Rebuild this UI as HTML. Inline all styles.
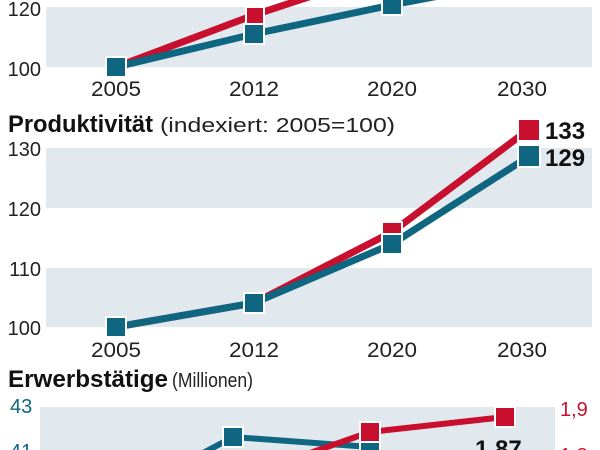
<!DOCTYPE html>
<html><head><style>body{margin:0;background:#fff}svg{display:block}</style></head><body>
<svg width="600" height="450" xmlns="http://www.w3.org/2000/svg" font-family="Liberation Sans, sans-serif">
<rect width="600" height="450" fill="#fff"/>
<!-- top chart -->
<rect x="46" y="7" width="546" height="60" fill="#e1e9ef"/>
<text x="41" y="16" font-size="20" text-anchor="end" fill="#222">120</text>
<text x="41" y="76" font-size="20" text-anchor="end" fill="#222">100</text>
<polyline points="116,67 254,15 330,-10" fill="none" stroke="#c8102e" stroke-width="7"/>
<polyline points="116,67 254,34 392,5 470,-10" fill="none" stroke="#0f6680" stroke-width="7"/>
<rect x="246" y="7" width="18" height="18" fill="#c8102e" stroke="#fff" stroke-width="2"/>
<rect x="244" y="24" width="20" height="20" fill="#0f6680" stroke="#fff" stroke-width="2"/>
<rect x="382" y="-5" width="20" height="20" fill="#0f6680" stroke="#fff" stroke-width="2"/>
<rect x="106" y="57" width="20" height="20" fill="#0f6680" stroke="#fff" stroke-width="2"/>
<g font-size="21" fill="#222" text-anchor="middle"><text x="116" y="96" textLength="50" lengthAdjust="spacingAndGlyphs">2005</text><text x="254" y="96" textLength="50" lengthAdjust="spacingAndGlyphs">2012</text><text x="392" y="96" textLength="50" lengthAdjust="spacingAndGlyphs">2020</text><text x="522" y="96" textLength="50" lengthAdjust="spacingAndGlyphs">2030</text></g>
<!-- middle chart -->
<text x="8" y="132" font-size="24" font-weight="bold" fill="#111" textLength="145" lengthAdjust="spacingAndGlyphs">Produktivität</text>
<text x="160" y="132" font-size="20" fill="#222" textLength="235" lengthAdjust="spacingAndGlyphs">(indexiert: 2005=100)</text>
<rect x="46" y="148" width="546" height="60" fill="#e1e9ef"/>
<rect x="46" y="268" width="546" height="59" fill="#e1e9ef"/>
<g font-size="20" fill="#222" text-anchor="end"><text x="41" y="156">130</text><text x="41" y="216">120</text><text x="41" y="276">110</text><text x="41" y="335">100</text></g>
<polyline points="116,327 254,303 392,232 528,130" fill="none" stroke="#c8102e" stroke-width="7"/>
<polyline points="116,327 254,303 392,244 528,157" fill="none" stroke="#0f6680" stroke-width="7"/>
<rect x="382" y="222" width="20" height="20" fill="#c8102e" stroke="#fff" stroke-width="2"/>
<rect x="382" y="234" width="20" height="20" fill="#0f6680" stroke="#fff" stroke-width="2"/>
<rect x="244" y="293" width="20" height="20" fill="#0f6680" stroke="#fff" stroke-width="2"/>
<rect x="106" y="317" width="20" height="20" fill="#0f6680" stroke="#fff" stroke-width="2"/>
<rect x="518" y="119" width="22" height="22" fill="#c8102e" stroke="#fff" stroke-width="2"/>
<rect x="518" y="145" width="22" height="22" fill="#0f6680" stroke="#fff" stroke-width="2"/>
<text x="545" y="139" font-size="24" font-weight="bold" fill="#111">133</text>
<text x="545" y="166" font-size="24" font-weight="bold" fill="#111">129</text>
<g font-size="21" fill="#222" text-anchor="middle"><text x="116" y="357" textLength="50" lengthAdjust="spacingAndGlyphs">2005</text><text x="254" y="357" textLength="50" lengthAdjust="spacingAndGlyphs">2012</text><text x="392" y="357" textLength="50" lengthAdjust="spacingAndGlyphs">2020</text><text x="522" y="357" textLength="50" lengthAdjust="spacingAndGlyphs">2030</text></g>
<!-- bottom chart -->
<text x="8" y="387" font-size="24" font-weight="bold" fill="#111" textLength="160" lengthAdjust="spacingAndGlyphs">Erwerbstätige</text>
<text x="172" y="387" font-size="20" fill="#222" textLength="81" lengthAdjust="spacingAndGlyphs">(Millionen)</text>
<rect x="40" y="407" width="515" height="50" fill="#e1e9ef"/>
<text x="10" y="413" font-size="20" fill="#0f6680">43</text>
<text x="10" y="458" font-size="20" fill="#0f6680">41</text>
<text x="560" y="416" font-size="20" fill="#c8102e">1,9</text>
<text x="560" y="462" font-size="20" fill="#c8102e">1,8</text>
<polyline points="190,460 233,437 370,447 380,460" fill="none" stroke="#0f6680" stroke-width="6"/>
<polyline points="290,460 370,432 505,417" fill="none" stroke="#c8102e" stroke-width="6"/>
<rect x="223" y="427" width="20" height="20" fill="#0f6680" stroke="#fff" stroke-width="2"/>
<rect x="360" y="440" width="20" height="20" fill="#0f6680" stroke="#fff" stroke-width="2"/>
<rect x="360" y="422" width="20" height="20" fill="#c8102e" stroke="#fff" stroke-width="2"/>
<rect x="495" y="407" width="20" height="20" fill="#c8102e" stroke="#fff" stroke-width="2"/>
<text x="475" y="457" font-size="24" font-weight="bold" fill="#111">1,87</text>
</svg>
</body></html>
